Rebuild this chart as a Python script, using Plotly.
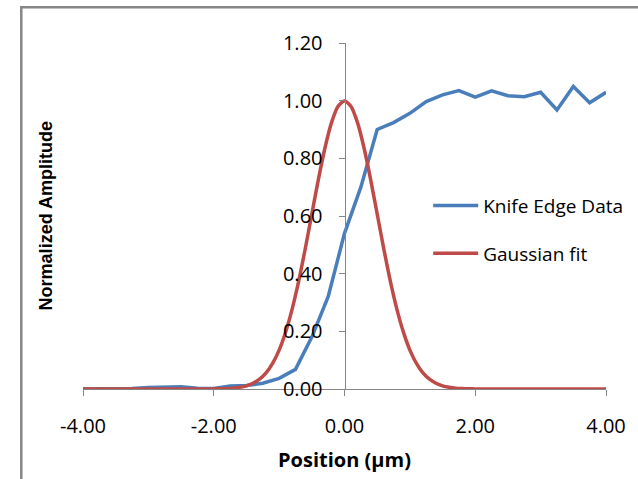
import plotly.graph_objects as go

# Knife edge measured data
knife_x = [-4.00, -3.75, -3.50, -3.25, -3.00, -2.75, -2.50, -2.25, -2.00, -1.75, -1.50,
           -1.25, -1.00, -0.75, -0.50, -0.25, 0.00, 0.25, 0.50, 0.75, 1.00, 1.25,
           1.50, 1.75, 2.00, 2.25, 2.50, 2.75, 3.00, 3.25, 3.50, 3.75, 4.00]
knife_y = [0.000, 0.000, 0.000, 0.002, 0.005, 0.005, 0.008, 0.003, 0.002, 0.010, 0.012,
           0.020, 0.037, 0.068, 0.180, 0.320, 0.540, 0.700, 0.900, 0.924, 0.956, 0.997,
           1.020, 1.035, 1.012, 1.034, 1.017, 1.014, 1.029, 0.968, 1.049, 0.993, 1.029]

# Gaussian fit values
gauss_x = [-4.0, -3.0, -2.5, -2.0, -1.9, -1.8, -1.7, -1.6, -1.5, -1.4, -1.3, -1.2, -1.1,
           -1.0, -0.9, -0.8, -0.7, -0.6, -0.5, -0.4, -0.3, -0.2, -0.1, 0.0,
           0.1, 0.2, 0.3, 0.4, 0.5, 0.6, 0.7, 0.8, 0.9, 1.0, 1.1, 1.2, 1.3,
           1.4, 1.5, 1.6, 1.7, 1.8, 1.9, 2.0, 2.5, 3.0, 4.0]
gauss_y = [0.0, 0.0, 0.0, 0.0003, 0.0007, 0.0015, 0.003, 0.006, 0.011, 0.020, 0.034, 0.056, 0.089,
           0.135, 0.198, 0.278, 0.375, 0.487, 0.607, 0.726, 0.835, 0.923, 0.980, 1.000,
           0.980, 0.923, 0.835, 0.726, 0.607, 0.487, 0.375, 0.278, 0.198, 0.135, 0.089, 0.056, 0.034,
           0.020, 0.011, 0.006, 0.003, 0.0015, 0.0007, 0.0003, 0.0, 0.0, 0.0]

x_ticks = [-4, -2, 0, 2, 4]
x_tick_labels = ["-4.00", "-2.00", "0.00", "2.00", "4.00"]
y_ticks = [0, 0.2, 0.4, 0.6, 0.8, 1.0, 1.2]
y_tick_labels = ["0.00", "0.20", "0.40", "0.60", "0.80", "1.00", "1.20"]

BLUE = "#4A7EBB"
RED = "#BE4B48"
GREY = "#868686"
TICK_FONT = dict(family="Open Sans", size=20, color="#000000")

fig = go.Figure()
fig.add_trace(go.Scatter(x=knife_x, y=knife_y, mode="lines", name="Knife Edge Data",
                         legendgroup="a", line=dict(color=BLUE, width=3.5)))
fig.add_trace(go.Scatter(x=gauss_x, y=gauss_y, mode="lines", name="Gaussian fit",
                         legendgroup="b",
                         line=dict(color=RED, width=3.5, shape="spline", smoothing=0.6)))

fig.update_layout(
    width=638, height=479,
    margin=dict(l=83, r=32, t=43, b=90, autoexpand=False),
    paper_bgcolor="white", plot_bgcolor="white",
    showlegend=True,
    legend=dict(x=0.66, y=0.585, xanchor="left", yanchor="top",
                font=dict(family="Open Sans", size=19, color="#000000"),
                itemwidth=45, tracegroupgap=20, bgcolor="rgba(0,0,0,0)"),
    xaxis=dict(range=[-4, 4], tickvals=x_ticks, ticktext=x_tick_labels, automargin=False,
               showgrid=False, zeroline=False, showline=True, linecolor=GREY, linewidth=1,
               ticks="outside", ticklen=6, tickcolor=GREY, tickfont=TICK_FONT,
               ticklabelstandoff=13,
               title=dict(text="<b>Position (µm)</b>", standoff=14,
                          font=dict(family="Open Sans", size=20, color="#000000"))),
    yaxis=dict(range=[0, 1.2], tickvals=y_ticks, ticktext=y_tick_labels, automargin=False,
               anchor="free", position=0.5, side="left",
               showgrid=False, zeroline=False, showline=True, linecolor=GREY, linewidth=1,
               ticks="outside", ticklen=6, tickcolor=GREY, tickfont=TICK_FONT,
               ticklabelstandoff=12),
    annotations=[dict(text="<b>Normalized Amplitude</b>", textangle=-90,
                      xref="paper", yref="paper", x=-0.07, y=0.5,
                      xanchor="center", yanchor="middle", showarrow=False,
                      font=dict(family="Liberation Sans, Arial", size=18, color="#000000"))],
    shapes=[dict(type="rect", xref="paper", yref="paper",
                 x0=-0.118, y0=-0.30, x1=1.2, y1=1.103,
                 line=dict(color=GREY, width=2.5), layer="below")],
)

fig.write_html("out.html")
